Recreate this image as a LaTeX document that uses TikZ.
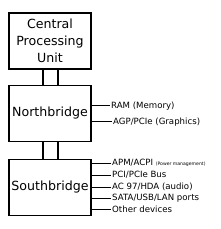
\documentclass[tikz,border=0pt]{standalone}
\usepackage{fontspec}
\setmainfont{DejaVu Sans}
\usetikzlibrary{positioning}

\begin{document}
\begin{tikzpicture}[x=1pt, y=-1pt,
    box/.style={draw, line width=1.5pt, minimum width=82pt, minimum height=56pt,
      align=center, font=\fontsize{12.6}{16.8}\selectfont, inner sep=0pt},
    lbl/.style={anchor=west, inner sep=1pt, font=\fontsize{8.6}{10}\selectfont},
    link/.style={line width=1.3pt},
    bus/.style={line width=1pt}]
    \useasboundingbox (0,0) rectangle (220,229);
    \node[box] (cpu) at (50,41) {Central\\Processing\\Unit};
    \node[box] (nb) at (50,113.5) {Northbridge};
    \node[box] (sb) at (50,187.5) {Southbridge};
    \draw[link] ([xshift=-7pt]cpu.south) -- ([xshift=-7pt]nb.north);
    \draw[link] ([xshift=8pt]cpu.south) -- ([xshift=8pt]nb.north);
    \draw[link] ([xshift=-7pt]nb.south) -- ([xshift=-7pt]sb.north);
    \draw[link] ([xshift=8pt]nb.south) -- ([xshift=8pt]sb.north);
    % northbridge buses
    \node[lbl] (ram) at (110,106) {RAM (Memory)};
    \node[lbl] (agp) at (112,122) {AGP/PCIe (Graphics)};
    \draw[bus] (nb.east |- ram.west) -- (ram.west);
    \draw[bus] (nb.east |- agp.west) -- (agp.west);
    % southbridge buses
    \node[lbl] (apm) at (111,163) {APM/ACPI {\fontsize{4.6}{5}\selectfont (Power management)}};
    \node[lbl] (pci) at (111,175) {PCI/PCIe Bus};
    \node[lbl] (ac) at (111,187) {AC 97/HDA (audio)};
    \node[lbl] (sata) at (111,198) {SATA/USB/LAN ports};
    \node[lbl] (other) at (111,209) {Other devices};
    \foreach \n in {apm,pci,ac,sata,other}
      \draw[bus] (sb.east |- \n.west) -- (\n.west);
\end{tikzpicture}
\end{document}
